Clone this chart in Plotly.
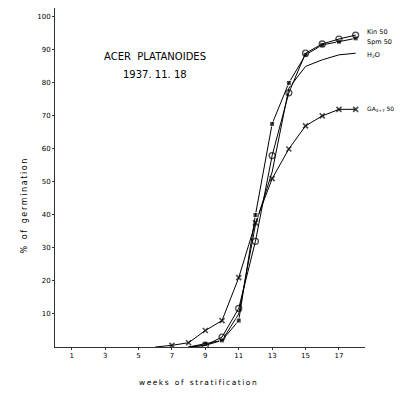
import plotly.graph_objects as go

weeks_ga = [6, 7, 8, 9, 10, 11, 12, 13, 14, 15, 16, 17, 18]
ga_vals = [0, 0.5, 1.3, 5, 8, 21, 37.6, 51, 60, 67, 70, 72, 72]

weeks_other = [8, 9, 10, 11, 12, 13, 14, 15, 16, 17, 18]
kin_vals = [0, 0.5, 3, 11.7, 32, 58, 77, 89, 91.8, 93.3, 94.5]
spm_vals = [0, 1, 2, 8, 40, 67.6, 80, 88.5, 91.5, 92.5, 93.5]
h2o_vals = [0, 0.5, 2, 10, 37, 53, 78.4, 85, 87, 88.5, 89]

x_ticks = [1, 3, 5, 7, 9, 11, 13, 15, 17]
y_ticks = [10, 20, 30, 40, 50, 60, 70, 80, 90, 100]

labels = ["Kin 50", "Spm 50", "H<sub>2</sub>O", "GA<sub>4+7</sub> 50"]
label_y = [95.5, 92.5, 88.5, 72]
label_size = [6.5, 6.5, 6.5, 6]

X_MAX = 18.56
Y_MAX = 102.7

THIN = "\u2009"


def spaced(s):
    return THIN.join(list(s)).replace(THIN + " " + THIN, " " + THIN + " ")


fig = go.Figure()
ln = dict(color="black", width=1)
ga_sizes = [0] + [5] * (len(weeks_ga) - 1)
sq_sizes = [0] + [5] * (len(weeks_other) - 1)
ci_sizes = [0] + [6] * (len(weeks_other) - 1)
fig.add_trace(go.Scatter(x=weeks_other, y=h2o_vals, mode="lines", line=ln))
fig.add_trace(go.Scatter(x=weeks_ga, y=ga_vals, mode="lines+markers", line=ln,
                         marker=dict(symbol="x-thin", size=ga_sizes, color="black",
                                     line=dict(color="black", width=1.6))))
fig.add_trace(go.Scatter(x=weeks_other, y=spm_vals, mode="lines+markers", line=ln,
                         marker=dict(symbol="square", size=sq_sizes, color="black")))
fig.add_trace(go.Scatter(x=weeks_other, y=kin_vals, mode="lines+markers", line=ln,
                         marker=dict(symbol="circle-open", size=ci_sizes, color="black",
                                     line=dict(width=1.3))))

for t, yv, fs in zip(labels, label_y, label_size):
    fig.add_annotation(xref="paper", x=1.0, y=yv, text=t, showarrow=False,
                       xanchor="left",
                       font=dict(family="DejaVu Sans", size=fs, color="black"))

fig.add_annotation(x=6, y=88, text="ACER  PLATANOIDES", showarrow=False,
                   font=dict(family="DejaVu Sans", size=10, color="black"))
fig.add_annotation(x=6, y=82.7, text="1937. 11. 18", showarrow=False,
                   font=dict(family="DejaVu Sans", size=10, color="black"))

fig.add_annotation(xref="paper", yref="paper", x=0.46, y=-0.105, yanchor="middle",
                   text=spaced("weeks of stratification"), showarrow=False,
                   font=dict(family="DejaVu Sans", size=7.5, color="black"))
fig.add_annotation(xref="paper", yref="paper", x=-0.119, y=0.416, textangle=-90,
                   text=spaced("% of germination"), showarrow=False,
                   font=dict(family="DejaVu Sans", size=8, color="black"))

fig.update_layout(
    width=386, height=379,
    margin=dict(l=47, r=29, t=0, b=40, pad=0),
    paper_bgcolor="white", plot_bgcolor="white",
    showlegend=False,
    xaxis=dict(range=[0, X_MAX], tickvals=x_ticks, ticktext=[str(v) for v in x_ticks],
               automargin=False,
               showgrid=False, zeroline=False, showline=True, linecolor="#333", linewidth=1,
               ticks="outside", ticklen=2, tickcolor="#333",
               tickfont=dict(family="DejaVu Sans", size=7, color="black")),
    yaxis=dict(range=[0, Y_MAX], tickvals=y_ticks, ticktext=[str(v) for v in y_ticks],
               automargin=False,
               showgrid=False, zeroline=False, showline=True, linecolor="#333", linewidth=1,
               ticks="outside", ticklen=2, tickcolor="#333",
               tickfont=dict(family="DejaVu Sans", size=7, color="black")),
)
fig.write_html("out.html")
